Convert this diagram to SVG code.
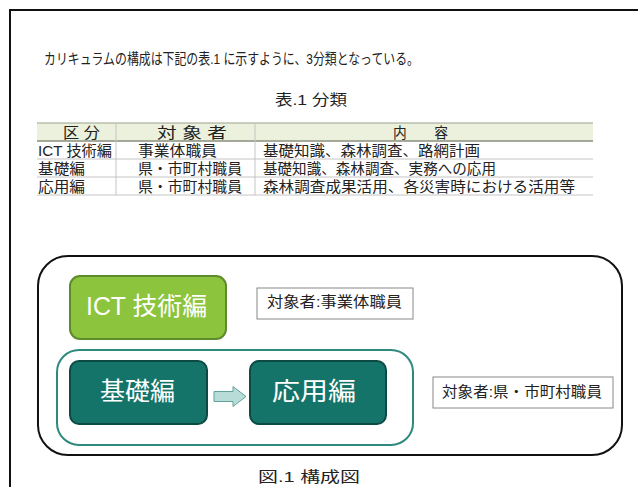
<svg xmlns="http://www.w3.org/2000/svg" width="638" height="487" viewBox="0 0 638 487">
<style>
text{font-family:"Liberation Sans","Noto Sans CJK JP",sans-serif;fill:#222;font-weight:400}
.t{font-size:14.5px}
.s{font-size:15px}
.big{font-size:25px;fill:#fff}
.hdr{fill:#ebf1dc;stroke:none}
.grid{stroke:#c4c4c4;stroke-width:1}
.lbl{fill:#fff;stroke:#888;stroke-width:1}
.teal{fill:#157469;stroke:#0c4a43;stroke-width:2}
</style>
<rect x="0" y="0" width="638" height="487" fill="#fff"/>
<rect x="10" y="10" width="640" height="490" fill="none" stroke="#111" stroke-width="2"/>
<text class="s" x="44" y="64" textLength="375" lengthAdjust="spacingAndGlyphs">カリキュラムの構成は下記の表.1 に示すように、3分類となっている。</text>
<text class="t" x="275" y="105" textLength="72" lengthAdjust="spacingAndGlyphs">表.1  分類</text>
<g id="table">
<rect class="hdr" x="37" y="123" width="556" height="18"/>
<line x1="37" y1="123" x2="593" y2="123" stroke="#9aa08a" stroke-width="1"/>
<line x1="37" y1="141" x2="593" y2="141" stroke="#8a8f7c" stroke-width="1.5"/>
<line class="grid" x1="37" y1="159" x2="593" y2="159"/>
<line class="grid" x1="37" y1="177" x2="593" y2="177"/>
<line class="grid" x1="37" y1="195" x2="593" y2="195"/>
<line class="grid" x1="116" y1="123" x2="116" y2="195"/>
<line class="grid" x1="255" y1="123" x2="255" y2="195"/>
<text class="t" x="63" y="138" textLength="37" lengthAdjust="spacingAndGlyphs">区 分</text>
<text class="t" x="157" y="138" textLength="70" lengthAdjust="spacingAndGlyphs">対 象 者</text>
<text class="t" x="393" y="138" textLength="55" lengthAdjust="spacingAndGlyphs">内　　容</text>
<text class="t" x="38" y="156" textLength="74" lengthAdjust="spacingAndGlyphs">ICT 技術編</text>
<text class="t" x="138" y="156" textLength="79" lengthAdjust="spacingAndGlyphs">事業体職員</text>
<text class="t" x="263" y="156" textLength="217" lengthAdjust="spacingAndGlyphs">基礎知識、森林調査、路網計画</text>
<text class="t" x="38" y="174" textLength="47" lengthAdjust="spacingAndGlyphs">基礎編</text>
<text class="t" x="138" y="174" textLength="104" lengthAdjust="spacingAndGlyphs">県・市町村職員</text>
<text class="t" x="263" y="174" textLength="233" lengthAdjust="spacingAndGlyphs">基礎知識、森林調査、実務への応用</text>
<text class="t" x="38" y="192" textLength="47" lengthAdjust="spacingAndGlyphs">応用編</text>
<text class="t" x="138" y="192" textLength="104" lengthAdjust="spacingAndGlyphs">県・市町村職員</text>
<text class="t" x="263" y="192" textLength="312" lengthAdjust="spacingAndGlyphs">森林調査成果活用、各災害時における活用等</text>
</g>
<g id="frame">
<rect x="38" y="256" width="584" height="199" rx="30" fill="none" stroke="#111" stroke-width="2"/>
</g>
<g id="group">
<rect x="57" y="350" width="356" height="95" rx="22" fill="#fff" stroke="#2e8a7e" stroke-width="2"/>
</g>
<g id="ict">
<rect x="70" y="276" width="156" height="63" rx="10" fill="#8cc43e" stroke="#5e8b2b" stroke-width="2"/>
<text class="big" x="86" y="315" textLength="121" lengthAdjust="spacingAndGlyphs">ICT 技術編</text>
</g>
<g id="label1">
<rect class="lbl" x="257" y="288" width="156" height="31"/>
<text class="t" x="267" y="307" textLength="135" lengthAdjust="spacingAndGlyphs">対象者:事業体職員</text>
</g>
<g id="kiso">
<rect class="teal" x="70" y="361" width="137" height="63" rx="9"/>
<text class="big" x="100" y="400" textLength="75" lengthAdjust="spacingAndGlyphs">基礎編</text>
</g>
<g id="oyo">
<rect class="teal" x="250" y="361" width="136" height="63" rx="9"/>
<text class="big" x="272" y="400" textLength="84" lengthAdjust="spacingAndGlyphs">応用編</text>
</g>
<g id="label2">
<rect class="lbl" x="433" y="377" width="180" height="31"/>
<text class="t" x="442" y="397" textLength="160" lengthAdjust="spacingAndGlyphs">対象者:県・市町村職員</text>
</g>
<g id="connectors">
<polygon points="214,391.5 233,391.5 233,386.5 246,396.5 233,406.5 233,401.5 214,401.5" fill="#b8dcd7" stroke="#5fa39b" stroke-width="1"/>
</g>
<text class="t" x="258" y="482" textLength="102" lengthAdjust="spacingAndGlyphs">図.1  構成図</text>
</svg>
